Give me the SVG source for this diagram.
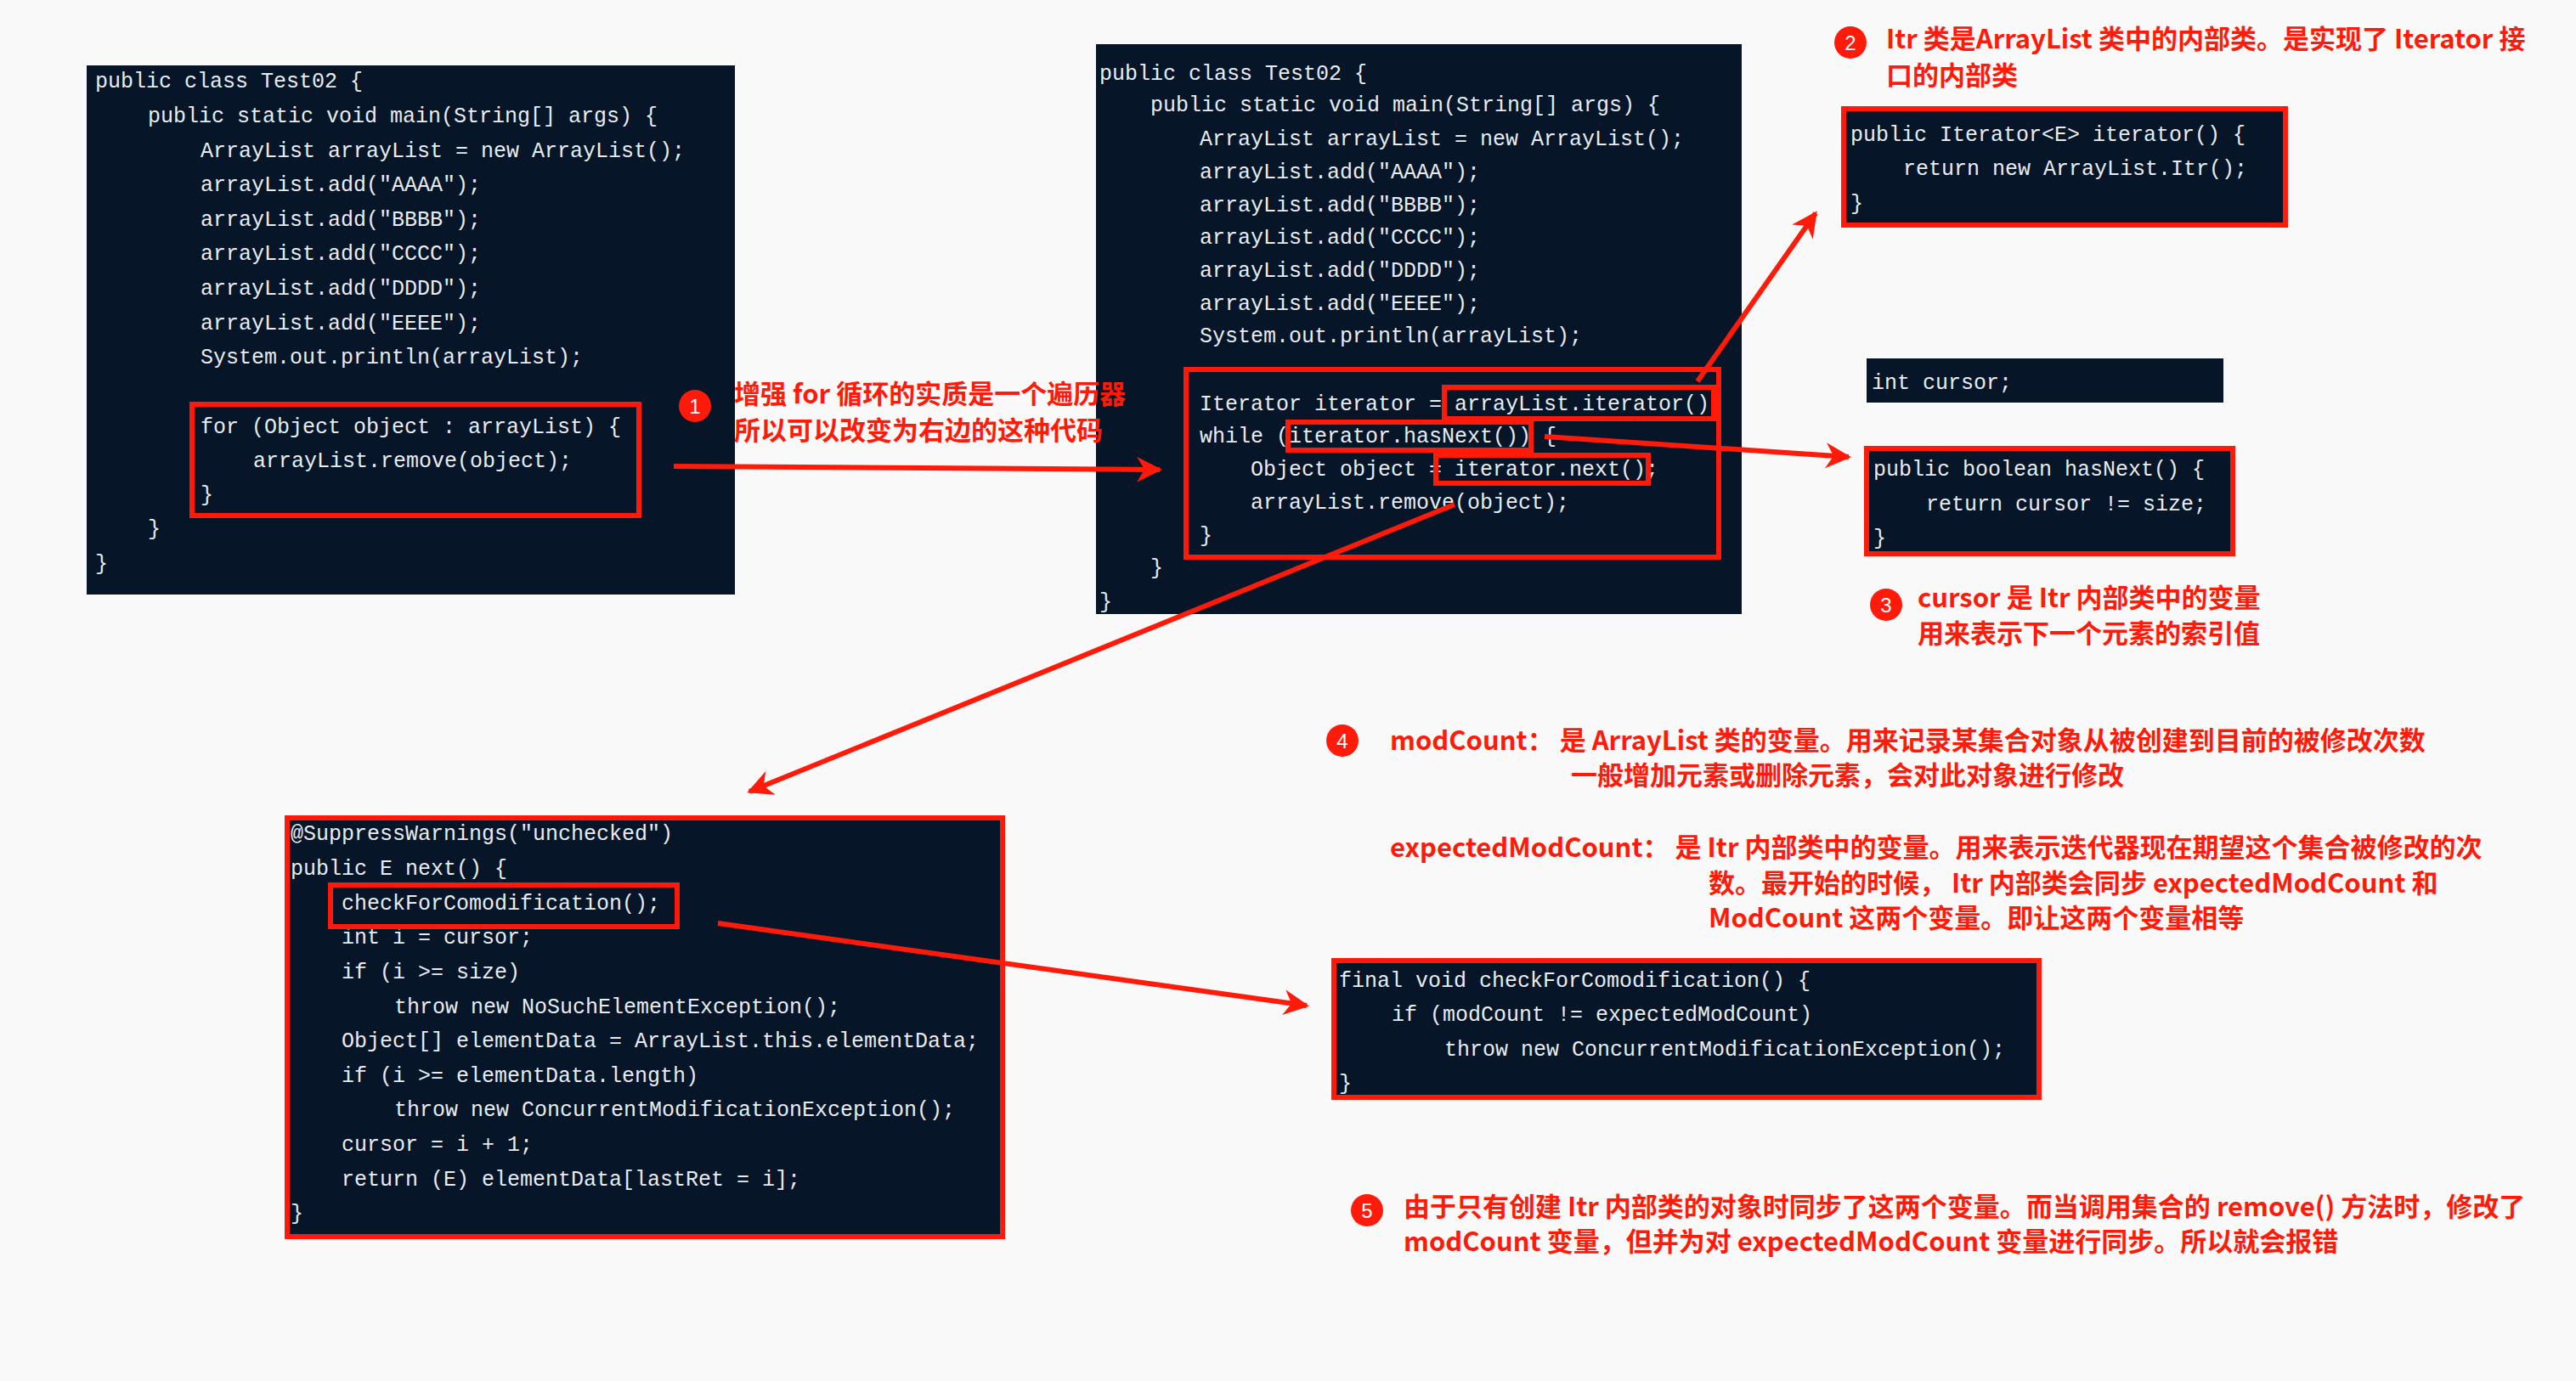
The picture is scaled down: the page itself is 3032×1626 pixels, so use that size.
<svg xmlns="http://www.w3.org/2000/svg" width="3032" height="1626" viewBox="0 0 3032 1626">
<style>
.bg{fill:#f9f9f9}
.code{fill:#061528}
.rb{fill:none;stroke:#ff1a0a;stroke-width:6}
.c{font-family:"Liberation Mono",monospace;font-size:25px;fill:#e8ecf0}
.n{font-family:"Noto Sans CJK SC","Liberation Sans",sans-serif;font-size:31px;font-weight:bold;fill:#ff1a0a}
.bd{fill:#ff1a0a}
.bt{font-family:"Liberation Sans",sans-serif;font-size:24px;fill:#fff;text-anchor:middle}
.ar{stroke:#ff1a0a;stroke-width:6;fill:none;marker-end:url(#ah)}
</style>
<defs>
<marker id="ah" viewBox="0 0 10 10" refX="9" refY="5" markerWidth="5" markerHeight="5" orient="auto" markerUnits="strokeWidth"><path d="M0,0 L10,5 L0,10 L3,5 z" fill="#ff1a0a"/></marker>
</defs>
<rect class="bg" width="3032" height="1626"/>

<g id="box1">
<rect class="code" x="102" y="77" width="763" height="623"/>
<text class="c" x="112" y="103">public class Test02 {</text>
<text class="c" x="174" y="144">public static void main(String[] args) {</text>
<text class="c" x="236" y="185">ArrayList arrayList = new ArrayList();</text>
<text class="c" x="236" y="225">arrayList.add("AAAA");</text>
<text class="c" x="236" y="266">arrayList.add("BBBB");</text>
<text class="c" x="236" y="306">arrayList.add("CCCC");</text>
<text class="c" x="236" y="347">arrayList.add("DDDD");</text>
<text class="c" x="236" y="388">arrayList.add("EEEE");</text>
<text class="c" x="236" y="428">System.out.println(arrayList);</text>
<text class="c" x="236" y="510">for (Object object : arrayList) {</text>
<text class="c" x="298" y="550">arrayList.remove(object);</text>
<text class="c" x="236" y="590">}</text>
<text class="c" x="174" y="630">}</text>
<text class="c" x="112" y="671">}</text>
<rect class="rb" x="226" y="476" width="526" height="131"/>
</g>

<g id="box2">
<rect class="code" x="1290" y="52" width="760" height="671"/>
<text class="c" x="1294" y="94">public class Test02 {</text>
<text class="c" x="1354" y="131">public static void main(String[] args) {</text>
<text class="c" x="1412" y="171">ArrayList arrayList = new ArrayList();</text>
<text class="c" x="1412" y="210">arrayList.add("AAAA");</text>
<text class="c" x="1412" y="249">arrayList.add("BBBB");</text>
<text class="c" x="1412" y="287">arrayList.add("CCCC");</text>
<text class="c" x="1412" y="326">arrayList.add("DDDD");</text>
<text class="c" x="1412" y="365">arrayList.add("EEEE");</text>
<text class="c" x="1412" y="403">System.out.println(arrayList);</text>
<text class="c" x="1412" y="483">Iterator iterator = arrayList.iterator();</text>
<text class="c" x="1412" y="521">while (iterator.hasNext()) {</text>
<text class="c" x="1472" y="560">Object object = iterator.next();</text>
<text class="c" x="1472" y="599">arrayList.remove(object);</text>
<text class="c" x="1412" y="638">}</text>
<text class="c" x="1354" y="676">}</text>
<text class="c" x="1294" y="716">}</text>
<rect class="rb" x="1396" y="435" width="627" height="221"/>
<rect class="rb" x="1700" y="456" width="317" height="37"/>
<rect class="rb" x="1516" y="497" width="286" height="33"/>
<rect class="rb" x="1690" y="536" width="250" height="33"/>
</g>

<g id="iterBox">
<rect class="code" x="2170" y="128" width="520" height="137"/>
<text class="c" x="2178" y="166">public Iterator&lt;E&gt; iterator() {</text>
<text class="c" x="2240" y="206">return new ArrayList.Itr();</text>
<text class="c" x="2178" y="247">}</text>
<rect class="rb" x="2170" y="128" width="520" height="137"/>
</g>

<g id="cursorBox">
<rect class="code" x="2197" y="422" width="420" height="52"/>
<text class="c" x="2203" y="458">int cursor;</text>
</g>

<g id="hasNextBox">
<rect class="code" x="2197" y="528" width="431" height="124"/>
<text class="c" x="2205" y="560">public boolean hasNext() {</text>
<text class="c" x="2267" y="601">return cursor != size;</text>
<text class="c" x="2205" y="641">}</text>
<rect class="rb" x="2197" y="528" width="431" height="124"/>
</g>

<g id="nextBox">
<rect class="code" x="338" y="963" width="842" height="493"/>
<text class="c" x="342" y="989">@SuppressWarnings("unchecked")</text>
<text class="c" x="342" y="1030">public E next() {</text>
<text class="c" x="402" y="1071">checkForComodification();</text>
<text class="c" x="402" y="1111">int i = cursor;</text>
<text class="c" x="402" y="1152">if (i &gt;= size)</text>
<text class="c" x="464" y="1193">throw new NoSuchElementException();</text>
<text class="c" x="402" y="1233">Object[] elementData = ArrayList.this.elementData;</text>
<text class="c" x="402" y="1274">if (i &gt;= elementData.length)</text>
<text class="c" x="464" y="1314">throw new ConcurrentModificationException();</text>
<text class="c" x="402" y="1355">cursor = i + 1;</text>
<text class="c" x="402" y="1396">return (E) elementData[lastRet = i];</text>
<text class="c" x="342" y="1436">}</text>
<rect class="rb" x="338" y="963" width="842" height="493"/>
<rect class="rb" x="389" y="1042" width="408" height="49"/>
</g>

<g id="checkBox">
<rect class="code" x="1570" y="1131" width="830" height="161"/>
<text class="c" x="1576" y="1162">final void checkForComodification() {</text>
<text class="c" x="1638" y="1202">if (modCount != expectedModCount)</text>
<text class="c" x="1700" y="1243">throw new ConcurrentModificationException();</text>
<text class="c" x="1576" y="1283">}</text>
<rect class="rb" x="1570" y="1131" width="830" height="161"/>
</g>

<g id="note1">
<circle class="bd" cx="818" cy="478" r="19"/><text class="bt" x="818" y="487">1</text>
<text class="n" x="864" y="475">增强 for 循环的实质是一个遍历器</text>
<text class="n" x="864" y="518">所以可以改变为右边的这种代码</text>
</g>
<g id="note2">
<circle class="bd" cx="2178" cy="50" r="19"/><text class="bt" x="2178" y="59">2</text>
<text class="n" x="2220" y="57">Itr 类是ArrayList 类中的内部类。是实现了 Iterator 接</text>
<text class="n" x="2220" y="100">口的内部类</text>
</g>
<g id="note3">
<circle class="bd" cx="2220" cy="712" r="19"/><text class="bt" x="2220" y="721">3</text>
<text class="n" x="2257" y="715">cursor 是 Itr 内部类中的变量</text>
<text class="n" x="2257" y="757">用来表示下一个元素的索引值</text>
</g>
<g id="note4">
<circle class="bd" cx="1580" cy="872" r="19"/><text class="bt" x="1580" y="881">4</text>
<text class="n" x="1636" y="883">modCount： 是 ArrayList 类的变量。用来记录某集合对象从被创建到目前的被修改次数</text>
<text class="n" x="1849" y="924">一般增加元素或删除元素，会对此对象进行修改</text>
<text class="n" x="1636" y="1009">expectedModCount： 是 Itr 内部类中的变量。用来表示迭代器现在期望这个集合被修改的次</text>
<text class="n" x="2011" y="1051">数。最开始的时候， Itr 内部类会同步 expectedModCount 和</text>
<text class="n" x="2011" y="1092">ModCount 这两个变量。即让这两个变量相等</text>
</g>
<g id="note5">
<circle class="bd" cx="1609" cy="1425" r="19"/><text class="bt" x="1609" y="1434">5</text>
<text class="n" x="1652" y="1432">由于只有创建 Itr 内部类的对象时同步了这两个变量。而当调用集合的 remove() 方法时，修改了</text>
<text class="n" x="1652" y="1473">modCount 变量，但并为对 expectedModCount 变量进行同步。所以就会报错</text>
</g>

<g id="connectors">
<line class="ar" x1="793" y1="549" x2="1365" y2="553"/>
<line class="ar" x1="1998" y1="449" x2="2137" y2="251"/>
<line class="ar" x1="1818" y1="514" x2="2176" y2="538"/>
<line class="ar" x1="1712" y1="594" x2="882" y2="932"/>
<line class="ar" x1="845" y1="1087" x2="1538" y2="1184"/>
</g>
</svg>
